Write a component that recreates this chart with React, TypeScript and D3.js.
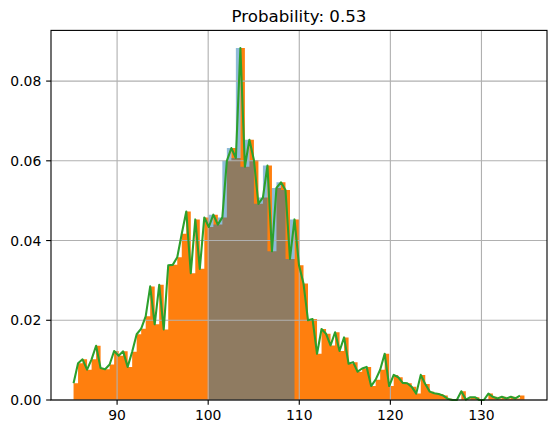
import React from 'react';
import * as d3 from 'd3';

const BIN_START = 85.22;
const BIN_END = 134.72;
const DENSITY = [
  0.0042, 0.0092, 0.0102, 0.0076, 0.0102, 0.0136, 0.0080, 0.0077, 0.0089, 0.0123,
  0.0111, 0.0122, 0.0083, 0.0121, 0.0165, 0.0179, 0.0210, 0.0285, 0.0190, 0.0289,
  0.0177, 0.0338, 0.0339, 0.0358, 0.0417, 0.0473, 0.0318, 0.0453, 0.0329, 0.0458,
  0.0434, 0.0465, 0.0440, 0.0458, 0.0600, 0.0632, 0.0607, 0.0883, 0.0585, 0.0653,
  0.0602, 0.0492, 0.0508, 0.0588, 0.0373, 0.0532, 0.0546, 0.0527, 0.0354, 0.0453,
  0.0338, 0.0292, 0.0200, 0.0203, 0.0116, 0.0178, 0.0166, 0.0137, 0.0170, 0.0123,
  0.0157, 0.0091, 0.0095, 0.0071, 0.0079, 0.0083, 0.0035, 0.0051, 0.0076, 0.0116,
  0.0035, 0.0063, 0.0057, 0.0043, 0.0042, 0.0033, 0.0016, 0.0063, 0.0040, 0.0021,
  0.0017, 0.0015, 0.0011, 0.0003, 0.0000, 0.0000, 0.0022, 0.0001, 0.0007, 0.0007,
  0.0000, 0.0000, 0.0016, 0.0008, 0.0004, 0.0008, 0.0004, 0.0008, 0.0004, 0.0011,
];
const RANGE_LOW = 100;
const RANGE_HIGH = 110;
const TITLE = 'Probability: 0.53';
const X_TICKS = [90, 100, 110, 120, 130];
const Y_TICKS = [0, 0.02, 0.04, 0.06, 0.08];
const Y_TICK_LABELS = ['0.00', '0.02', '0.04', '0.06', '0.08'];

const W = 556;
const H = 433;
const LEFT = 51;
const RIGHT = 547;
const TOP = 30.4;
const BOTTOM = 400;
const FONT = '"DejaVu Sans", Verdana, sans-serif';

export default function App() {
  const n = DENSITY.length;
  const binW = (BIN_END - BIN_START) / n;
  const edges = d3.range(n + 1).map((i) => BIN_START + i * binW);
  const span = BIN_END - BIN_START;
  const x = d3
    .scaleLinear()
    .domain([BIN_START - 0.05 * span, BIN_END + 0.05 * span])
    .range([LEFT, RIGHT]);
  const yMax = (d3.max(DENSITY) as number) * 1.05;
  const y = d3.scaleLinear().domain([0, yMax]).range([BOTTOM, TOP]);

  // orange bars as one path (no seams)
  const bars = d3.path();
  DENSITY.forEach((v, i) => {
    if (v > 0) {
      const x0 = x(edges[i]);
      const x1 = x(edges[i + 1]);
      bars.rect(x0, y(v), x1 - x0, y(0) - y(v));
    }
  });

  // blue region: bins fully inside [LOW, HIGH], step 'pre'
  const idx = d3.range(n).filter((i) => edges[i] >= RANGE_LOW && edges[i + 1] <= RANGE_HIGH);
  const areaGen = d3
    .area<number>()
    .x((i) => x(edges[i]))
    .y0(y(0))
    .y1((i) => y(DENSITY[i]))
    .curve(d3.curveStepBefore);
  const blue = areaGen(idx) || '';

  const lineGen = d3
    .line<number>()
    .x((i) => x(edges[i]))
    .y((i) => y(DENSITY[i]));
  const green = lineGen(d3.range(n)) || '';

  const tickLen = 4.86;
  const sw = 1.11;

  return (
    <svg
      width={W}
      height={H}
      style={{ position: 'absolute', left: 0, top: 0, background: '#fff' }}
      fontFamily={FONT}
    >
      <rect x={0} y={0} width={W} height={H} fill="#fff" />
      <path d={bars.toString()} fill="#ff7f0e" />
      <path d={blue} fill="#1f77b4" fillOpacity={0.5} />
      {/* grid */}
      {X_TICKS.map((t) => (
        <line key={'gx' + t} x1={x(t)} x2={x(t)} y1={TOP} y2={BOTTOM} stroke="#b0b0b0" strokeWidth={sw} />
      ))}
      {Y_TICKS.map((t) => (
        <line key={'gy' + t} x1={LEFT} x2={RIGHT} y1={y(t)} y2={y(t)} stroke="#b0b0b0" strokeWidth={sw} />
      ))}
      <path d={green} fill="none" stroke="#2ca02c" strokeWidth={2.08} strokeLinejoin="round" />
      {/* spines */}
      <rect x={LEFT} y={TOP} width={RIGHT - LEFT} height={BOTTOM - TOP} fill="none" stroke="#000" strokeWidth={sw} />
      {/* ticks */}
      {X_TICKS.map((t) => (
        <g key={'xt' + t}>
          <line x1={x(t)} x2={x(t)} y1={BOTTOM} y2={BOTTOM + tickLen} stroke="#000" strokeWidth={sw} />
          <text x={x(t)} y={BOTTOM + 20} fontSize={13.9} textAnchor="middle" fill="#000">
            {t}
          </text>
        </g>
      ))}
      {Y_TICKS.map((t, k) => (
        <g key={'yt' + t}>
          <line x1={LEFT - tickLen} x2={LEFT} y1={y(t)} y2={y(t)} stroke="#000" strokeWidth={sw} />
          <text x={LEFT - 9.7} y={y(t) + 5} fontSize={13.9} textAnchor="end" fill="#000">
            {Y_TICK_LABELS[k]}
          </text>
        </g>
      ))}
      <text x={(LEFT + RIGHT) / 2} y={TOP - 8.4} fontSize={16.67} textAnchor="middle" fill="#000">
        {TITLE}
      </text>
    </svg>
  );
}
